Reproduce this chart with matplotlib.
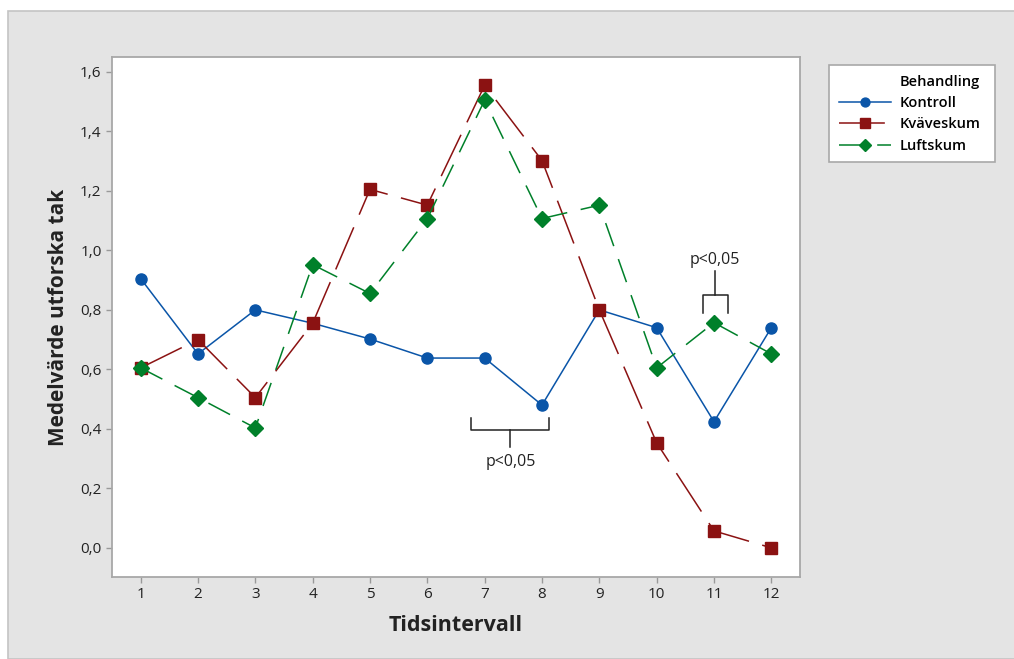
import matplotlib.pyplot as plt
from matplotlib.lines import Line2D
from matplotlib.patches import Rectangle
from matplotlib.ticker import FuncFormatter

plt.rcParams['font.family'] = ['Open Sans', 'DejaVu Sans']

# Data
intervals = [1, 2, 3, 4, 5, 6, 7, 8, 9, 10, 11, 12]
kontroll = [0.905, 0.652, 0.80, 0.755, 0.702, 0.638, 0.638, 0.48, 0.80, 0.74, 0.424, 0.74]
kvaveskum = [0.605, 0.70, 0.505, 0.755, 1.205, 1.152, 1.555, 1.302, 0.80, 0.353, 0.057, 0.0]
luftskum = [0.605, 0.505, 0.403, 0.952, 0.855, 1.107, 1.505, 1.107, 1.152, 0.605, 0.757, 0.652]
y_ticks = [0.0, 0.2, 0.4, 0.6, 0.8, 1.0, 1.2, 1.4, 1.6]

blue = '#0a55a8'
red = '#8b1212'
green = '#00802a'

fig = plt.figure(figsize=(10.14, 6.59), dpi=100)
fig.patch.set_facecolor('white')
# grey outer panel
fig.patches.append(Rectangle((8 / 1014, 0), 1, 1 - 11 / 659, transform=fig.transFigure,
                             facecolor='#e4e4e4', edgecolor='#c4c4c4', lw=1.2, zorder=-10))

ax = fig.add_axes([112 / 1014, 1 - 577 / 659, 688 / 1014, 520 / 659])
ax.set_facecolor('white')

ax.plot(intervals, kontroll, color=blue, lw=1.1, marker='o', markersize=8,
        markeredgecolor=blue, markerfacecolor=blue, label='Kontroll')
ax.plot(intervals, kvaveskum, color=red, lw=1.1, marker='s', markersize=9,
        markeredgecolor=red, markerfacecolor=red, dashes=(30, 9), label='Kväveskum')
ax.plot(intervals, luftskum, color=green, lw=1.1, marker='D', markersize=8,
        markeredgecolor=green, markerfacecolor=green, dashes=(16, 9), label='Luftskum')

# significance brackets
ax.plot([6.77, 6.77, 8.12, 8.12], [0.437, 0.397, 0.397, 0.437], color='#222222', lw=1.1)
ax.plot([7.45, 7.45], [0.397, 0.34], color='#222222', lw=1.1)
ax.text(7.45, 0.29, 'p<0,05', ha='center', va='center', fontsize=11.5, color='#222222')

ax.plot([10.8, 10.8, 11.25, 11.25], [0.79, 0.85, 0.85, 0.79], color='#222222', lw=1.1)
ax.plot([11.02, 11.02], [0.85, 0.93], color='#222222', lw=1.1)
ax.text(11.02, 0.968, 'p<0,05', ha='center', va='center', fontsize=11.5, color='#222222')

ax.set_xlim(0.5, 12.5)
ax.set_ylim(-0.098, 1.65)
ax.set_xticks(intervals)
ax.set_yticks(y_ticks)
ax.yaxis.set_major_formatter(FuncFormatter(lambda v, p: f'{v:.1f}'.replace('.', ',')))
ax.tick_params(colors='#999999', labelcolor='#222222', labelsize=11, length=4, width=1)
for s in ax.spines.values():
    s.set_color('#a8a8a8')
    s.set_linewidth(1.3)

ax.set_xlabel('Tidsintervall', fontsize=15.5, fontweight='bold', color='#222222', labelpad=9)
ax.set_ylabel('Medelvärde utforska tak', fontsize=15, fontweight='bold', color='#222222', labelpad=8)

# legend
handles, labels = ax.get_legend_handles_labels()
title = Line2D([], [], linestyle='none')
leg = fig.legend([title] + handles, ['Behandling'] + labels, loc='upper left',
                 bbox_to_anchor=(822 / 1014, 1 - 160 / 659, 180 / 1014, 102 / 659),
                 mode='expand', frameon=True, fancybox=False, framealpha=1, markerscale=0.8,
                 handlelength=3.6, handletextpad=0.6, borderpad=0.65, labelspacing=0.5,
                 prop={'weight': 'semibold', 'size': 10.5})
leg.get_frame().set_edgecolor('#a8a8a8')
leg.get_frame().set_linewidth(1.2)

fig.savefig('out.png', dpi=100)
